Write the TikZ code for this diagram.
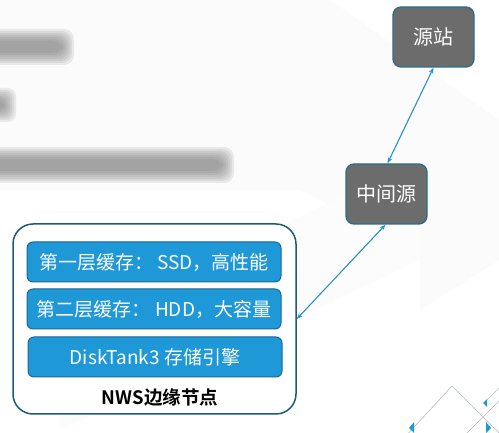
\documentclass[tikz,border=0pt]{standalone}
\usepackage{fontspec}
\setmainfont{Noto Sans CJK SC}
\newfontfamily\cjkb{Noto Sans CJK SC Bold}
\usetikzlibrary{arrows.meta}
\definecolor{boxblue}{HTML}{1E98D6}
\definecolor{boxblueedge}{HTML}{1A6994}
\definecolor{outeredge}{HTML}{1D5B7A}
\definecolor{graybox}{HTML}{6C6C6C}
\definecolor{grayedge}{HTML}{2C6E8A}
\definecolor{linkblue}{HTML}{2A93C4}
\definecolor{blurgray}{HTML}{6A6A6A}
\definecolor{decoline}{HTML}{B4BEC6}
\tikzset{
  x=1pt,y=-1pt,
  srcbox/.style={draw=grayedge,line width=1.3pt,fill=graybox,rounded corners=8pt,
    minimum width=81pt,minimum height=60pt,inner sep=0pt,text=white,
    font=\fontsize{20}{22}\selectfont},
  layerbox/.style={draw=boxblueedge,line width=1pt,fill=boxblue,rounded corners=6pt,
    minimum width=254pt,minimum height=40pt,inner sep=0pt,text=white,
    font=\fontsize{19}{21}\selectfont},
  outerbox/.style={draw=outeredge,line width=1.5pt,fill=white,rounded corners=20pt,
    minimum width=283pt,minimum height=190pt,inner sep=0pt},
  link/.style={draw=linkblue,line width=1.1pt,{Stealth[length=6pt,width=4.5pt]}-{Stealth[length=6pt,width=4.5pt]}},
  deco/.style={draw=decoline,line width=0.6pt},
  decotri/.style={fill=boxblue,draw=none}
}
\begin{document}
\begin{tikzpicture}
\useasboundingbox (0,0) rectangle (499,433);
\fill[white] (0,0) rectangle (499,433);
% faint background shapes
\fill[black!1.5] (0,0) -- (330,0) -- (499,120) -- (499,260) -- (420,310) -- (420,250) -- (300,190) -- (0,190) -- cycle;
\fill[black!1] (60,330) -- (420,160) -- (420,260) -- (60,430) -- cycle;
% blurred text
\foreach \w in {12,10,8,6,4,2,0}{
  \fill[blurgray,opacity=0.12,rounded corners=10pt] (-10,47-\w-6) rectangle (62+\w,47+\w+6);
  \fill[blurgray,opacity=0.12,rounded corners=8pt] (-10,105-\w-5) rectangle (4+\w,105+\w+5);
  \fill[blurgray,opacity=0.12,rounded corners=10pt] (-10,165-\w-6) rectangle (222+\w,165+\w+6);
}
% nodes
\node[srcbox] (src) at (433.5,37) {源站};
\node[srcbox] (mid) at (386.5,194) {中间源};
\node[outerbox] (edge) at (154.5,319) {};
\node[layerbox] (l1) at (154,262) {第一层缓存： SSD，高性能};
\node[layerbox] (l2) at (154,309) {第二层缓存： HDD，大容量};
\node[layerbox] (l3) at (155,357) {DiskTank3 存储引擎};
\node[font=\cjkb\fontsize{18.5}{20}\selectfont] (lbl) at (160,398) {NWS边缘节点};
% connectors
\draw[link] (src.south) -- ([xshift=1pt]mid.north);
\draw[link] ([xshift=-1pt]mid.south) -- (edge.east);
% decoration bottom right
\draw[deco] (404,438) -- (452,386) -- (504,438);
\draw[deco] (462,438) -- (505,395);
\draw[deco] (485,402) -- (505,382);
\fill[decotri] (409,428) -- (414,422) -- (414,433) -- cycle;
\fill[decotri] (491,428) -- (486,422) -- (486,433) -- cycle;
\fill[decotri] (483,403) -- (487,399) -- (487,407) -- cycle;
\end{tikzpicture}
\end{document}
